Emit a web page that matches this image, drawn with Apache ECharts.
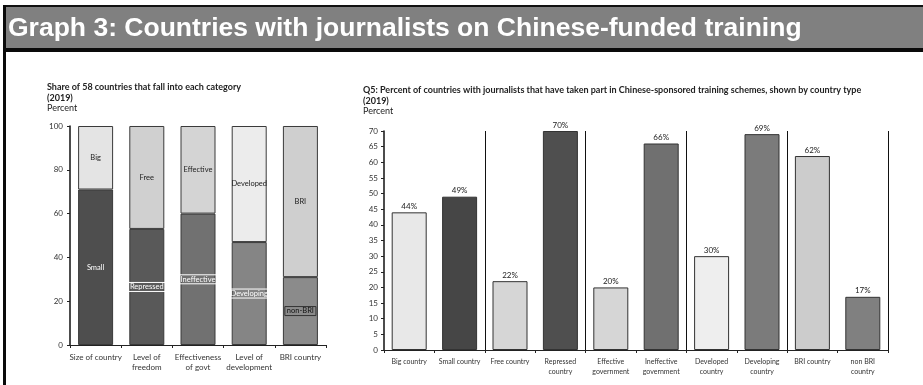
<!DOCTYPE html>
<html>
<head>
<meta charset="utf-8">
<script src="https://cdn.jsdelivr.net/npm/echarts@6/dist/echarts.min.js"></script>
<style>
  html, body { margin: 0; padding: 0; background: #fff; }
  #chart { width: 923px; height: 385px; }
</style>
</head>
<body>
<div id="chart"></div>
<script>
// Left panel: share of the 58 countries in each category (2019)
const groupCategories = ['Size of country', 'Level of\nfreedom', 'Effectiveness\nof govt', 'Level of\ndevelopment', 'BRI country'];
const lowerShare = [71, 53, 60, 47, 31];
const upperShare = [29, 47, 40, 53, 69];
const lowerNames = ['Small', 'Repressed', 'Ineffective', 'Developing', 'non-BRI'];
const upperNames = ['Big', 'Free', 'Effective', 'Developed', 'BRI'];
const leftTicks = [0, 20, 40, 60, 80, 100];

// Right panel: percent of countries with journalists on training schemes
const typeCategories = ['Big country', 'Small country', 'Free country', 'Repressed\ncountry', 'Effective\ngovernment',
  'Ineffective\ngovernment', 'Developed\ncountry', 'Developing\ncountry', 'BRI country', 'non BRI\ncountry'];
const typeValues = [44, 49, 22, 70, 20, 66, 30, 69, 62, 17];
const rightTicks = [0, 5, 10, 15, 20, 25, 30, 35, 40, 45, 50, 55, 60, 65, 70];

// fills
const lowerColors = ['#4e4e4e', '#595959', '#717171', '#858585', '#8b8b8b'];
const upperColors = ['#e4e4e4', '#d0d0d0', '#d4d4d4', '#ececec', '#cfcfcf'];
const typeColors = ['#e8e8e8', '#464646', '#d6d6d6', '#4f4f4f', '#d6d6d6', '#707070', '#eeeeee', '#7b7b7b', '#cccccc', '#808080'];
// pairs of bars are split by a rule before these category indices
const pairStarts = [2, 4, 6, 8];

const FONT = 'Lato';
const chart = echarts.init(document.getElementById('chart'), null, { renderer: 'canvas' });

const boxed = { borderWidth: 1, padding: [1, 2, 0, 2] };
const lowerLabelStyle = [
  { color: '#fff' },
  Object.assign({ color: '#fff', borderColor: '#fff' }, boxed),
  Object.assign({ color: '#fff', borderColor: '#fff' }, boxed),
  Object.assign({ color: '#fff', borderColor: '#fff' }, boxed),
  Object.assign({ color: '#111', borderColor: '#333' }, boxed)
];

const axisText = { fontFamily: FONT, fontSize: 8, color: '#333' };

const option = {
  animation: false,
  backgroundColor: '#ffffff',
  graphic: [
    { type: 'rect', shape: { x: 3, y: 5, width: 920, height: 2 }, style: { fill: '#111' }, silent: true },
    { type: 'rect', shape: { x: 6, y: 7, width: 917, height: 41 }, style: { fill: '#808080' }, silent: true },
    { type: 'rect', shape: { x: 3, y: 48, width: 920, height: 4 }, style: { fill: '#0a0a0a' }, silent: true },
    { type: 'rect', shape: { x: 3, y: 5, width: 3, height: 380 }, style: { fill: '#0a0a0a' }, silent: true }
  ],
  title: [
    {
      text: 'Graph 3: Countries with journalists on Chinese-funded training',
      left: 8, top: 15,
      textStyle: { fontFamily: 'Liberation Sans', fontWeight: 'bold', fontSize: 26.5, color: '#ffffff' },
      padding: 0
    },
    {
      text: 'Share of 58 countries that fall into each category\n(2019)',
      left: 47, top: 82,
      textStyle: { fontFamily: FONT, fontWeight: 'bold', fontSize: 9, lineHeight: 10.5, color: '#222' },
      padding: 0
    },
    {
      text: 'Percent',
      left: 47, top: 104,
      textStyle: { fontFamily: FONT, fontWeight: 'normal', fontSize: 9, color: '#222' },
      padding: 0
    },
    {
      text: 'Q5: Percent of countries with journalists that have taken part in Chinese-sponsored training schemes, shown by country type\n(2019)',
      left: 363, top: 85,
      textStyle: { fontFamily: FONT, fontWeight: 'bold', fontSize: 9, lineHeight: 10.5, color: '#222' },
      padding: 0
    },
    {
      text: 'Percent',
      left: 363, top: 107,
      textStyle: { fontFamily: FONT, fontWeight: 'normal', fontSize: 9, color: '#222' },
      padding: 0
    }
  ],
  grid: [
    { left: 70, top: 126, width: 256, height: 219 },
    { left: 384, top: 131, width: 504, height: 219 }
  ],
  xAxis: [
    {
      type: 'category', gridIndex: 0, data: groupCategories,
      axisLine: { lineStyle: { color: '#222', width: 1 } },
      axisTick: { show: true, length: 3, lineStyle: { color: '#222' } },
      axisLabel: Object.assign({ margin: 7, lineHeight: 10, interval: 0 }, axisText)
    },
    {
      type: 'category', gridIndex: 1, data: typeCategories,
      axisLine: { lineStyle: { color: '#222', width: 1 } },
      axisTick: { show: true, length: 3, lineStyle: { color: '#222' } },
      axisLabel: { margin: 7, lineHeight: 10, interval: 0, fontSize: 7, fontFamily: FONT, color: '#333' },
      splitLine: {
        show: true,
        interval: function (index) { return pairStarts.indexOf(index) !== -1; },
        lineStyle: { color: '#111', width: 1 }
      }
    }
  ],
  yAxis: [
    {
      type: 'value', gridIndex: 0,
      min: leftTicks[0], max: leftTicks[leftTicks.length - 1], interval: leftTicks[1] - leftTicks[0],
      axisLine: { show: true, lineStyle: { color: '#111', width: 1.5 } },
      axisTick: { show: true, length: 3, lineStyle: { color: '#222' } },
      splitLine: { show: false },
      axisLabel: Object.assign({ margin: 7 }, axisText)
    },
    {
      type: 'value', gridIndex: 1,
      min: rightTicks[0], max: rightTicks[rightTicks.length - 1], interval: rightTicks[1] - rightTicks[0],
      axisLine: { show: true, lineStyle: { color: '#111', width: 1.5 } },
      axisTick: { show: true, length: 3, lineStyle: { color: '#222' } },
      splitLine: { show: false },
      axisLabel: Object.assign({ margin: 6 }, axisText)
    }
  ],
  series: [
    {
      name: 'lower', type: 'bar', stack: 'share', xAxisIndex: 0, yAxisIndex: 0,
      barWidth: 35,
      data: lowerShare.map(function (v, i) {
        return {
          value: v,
          itemStyle: { color: lowerColors[i], borderColor: '#3a3a3a', borderWidth: 1 },
          label: lowerLabelStyle[i]
        };
      }),
      label: {
        show: true, position: 'inside',
        fontFamily: FONT, fontSize: 7.5,
        formatter: function (p) { return lowerNames[p.dataIndex]; }
      }
    },
    {
      name: 'upper', type: 'bar', stack: 'share', xAxisIndex: 0, yAxisIndex: 0,
      barWidth: 35,
      data: upperShare.map(function (v, i) {
        return { value: v, itemStyle: { color: upperColors[i], borderColor: '#3a3a3a', borderWidth: 1 } };
      }),
      label: {
        show: true, position: 'inside', color: '#222',
        fontFamily: FONT, fontSize: 7.5,
        formatter: function (p) { return upperNames[p.dataIndex]; }
      }
    },
    {
      name: 'share', type: 'bar', xAxisIndex: 1, yAxisIndex: 1,
      barWidth: 35,
      data: typeValues.map(function (v, i) {
        return { value: v, itemStyle: { color: typeColors[i], borderColor: '#333', borderWidth: 1 } };
      }),
      label: {
        show: true, position: 'top', distance: 2, color: '#222',
        fontFamily: FONT, fontSize: 8,
        formatter: function (p) { return p.value + '%'; }
      }
    }
  ]
};

chart.setOption(option);
</script>
</body>
</html>
